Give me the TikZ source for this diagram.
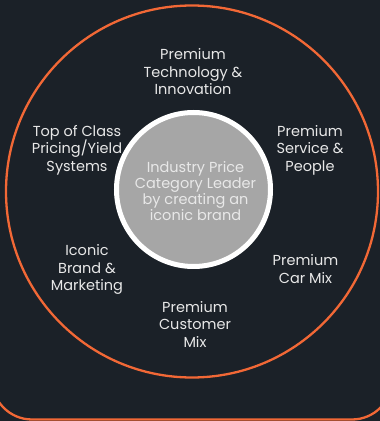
\documentclass[tikz,border=0pt]{standalone}
\usepackage{fontspec}
\setmainfont{Poppins}
\usepackage{tikz}

\definecolor{bg}{HTML}{1B2128}
\definecolor{ring}{HTML}{F26836}
\definecolor{core}{HTML}{A6A6A6}
\definecolor{txt}{HTML}{E8E8E8}

\begin{document}
\begin{tikzpicture}[x=1pt,y=1pt,
    lbl/.style={text=txt, align=center, inner sep=0pt, font=\fontsize{14.5}{17.5}\selectfont},
    corelbl/.style={text=txt, align=center, inner sep=0pt, font=\fontsize{14.5}{16}\selectfont}]

\useasboundingbox (0,0) rectangle (380,421);
\fill [bg] (0,0) rectangle (380,421);

\coordinate (0) at (192,229.5);
\coordinate (1) at (193.5,231.5);

% frame and outer ring
\draw [ring, line width=2.3pt, rounded corners=40pt] (-8,500) -- (-8,1.5) -- (392,1.5) -- (392,500);
\draw [ring, line width=2.3pt] (0) circle (186pt);

% centre disc
\draw [white, line width=5pt, fill=core] (1) circle (77pt);
\node [corelbl] (centre) at (195.5,229.5) {Industry Price\\Category Leader\\by creating an\\iconic brand};

\node [lbl] (tech)     at (193,349)   {Premium\\Technology \&\\Innovation};
\node [lbl] (pricing)  at (77,271)    {Top of Class\\Pricing/Yield\\Systems};
\node [lbl] (service)  at (310,271)   {Premium\\Service \&\\People};
\node [lbl] (brand)    at (87,151.5)  {Iconic\\Brand \&\\Marketing};
\node [lbl] (carmix)   at (305.5,152) {Premium\\Car Mix};
\node [lbl] (customer) at (195,97)    {Premium\\Customer\\Mix};

\end{tikzpicture}
\end{document}
